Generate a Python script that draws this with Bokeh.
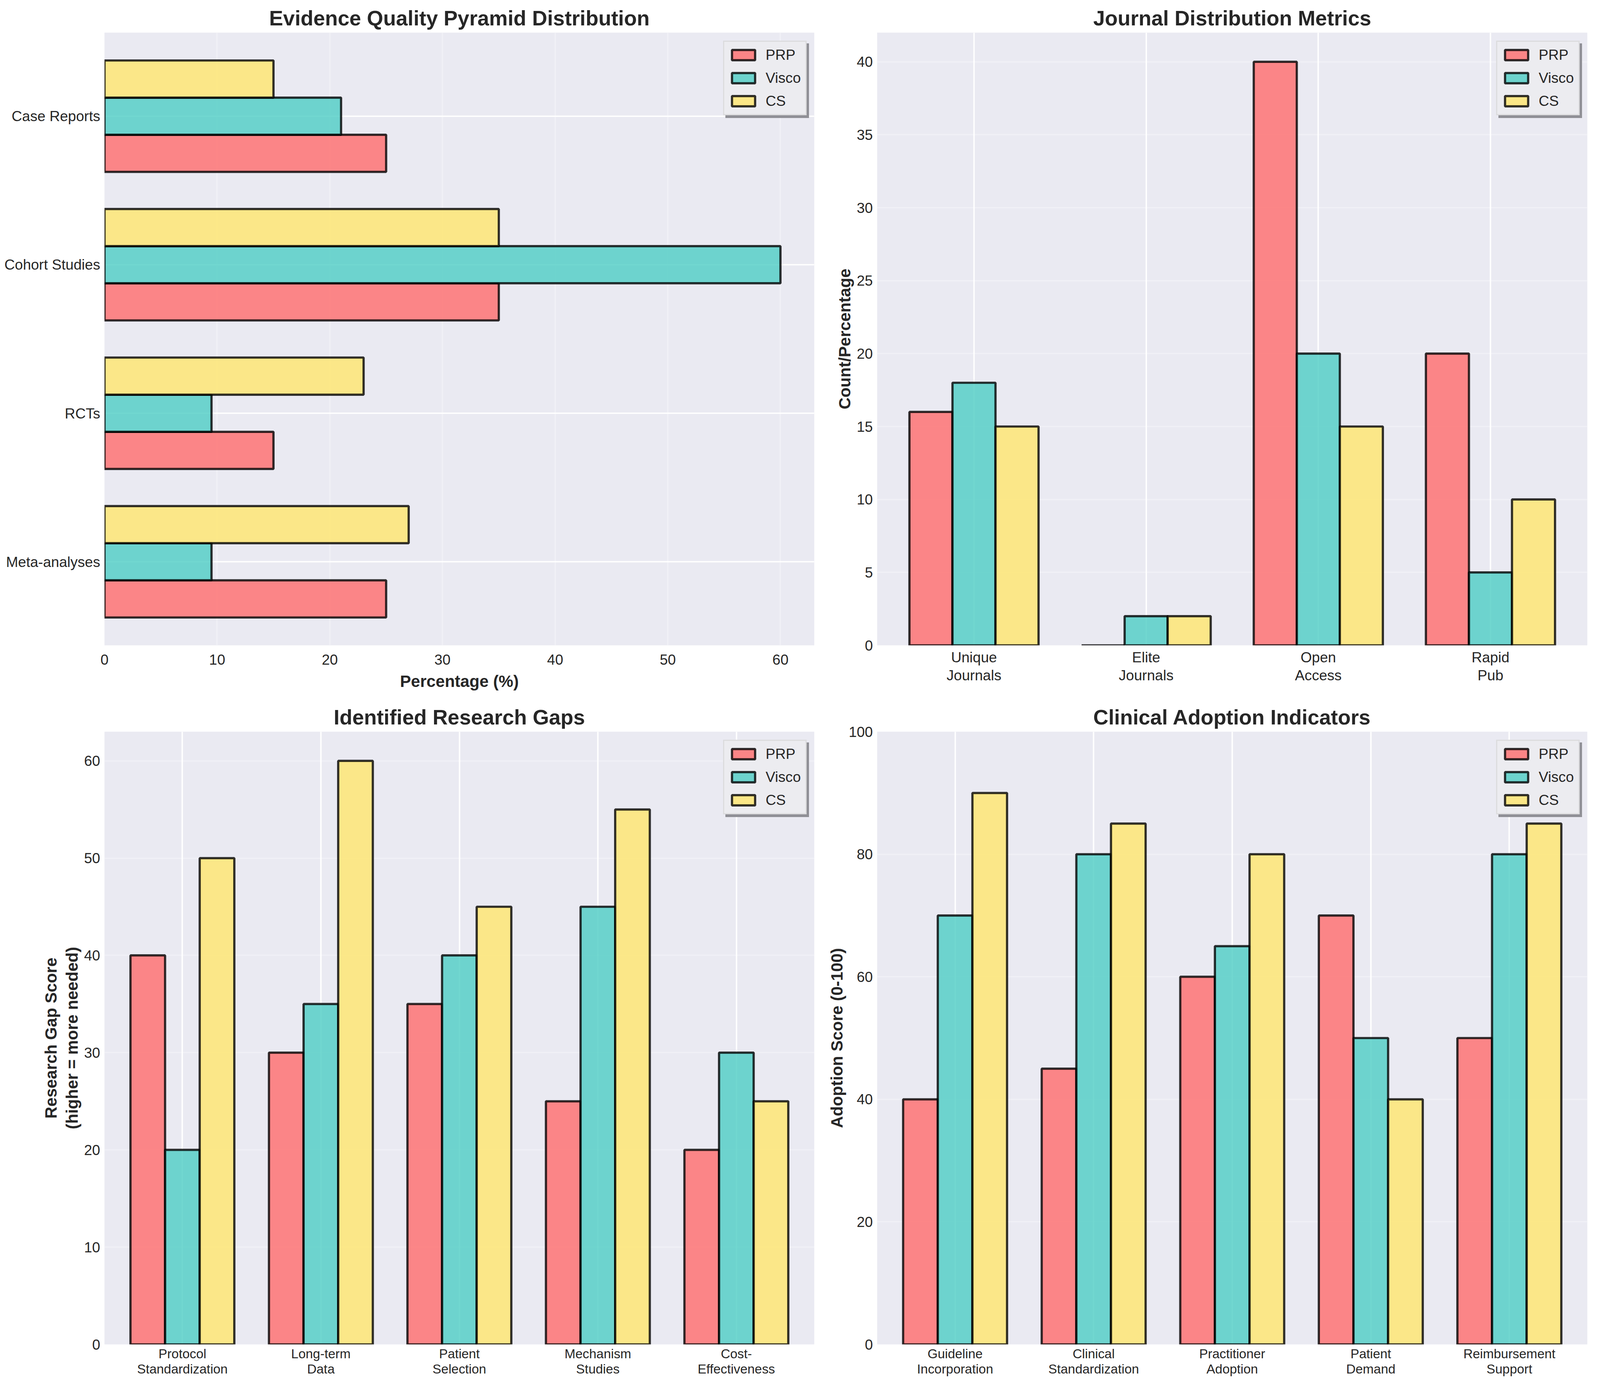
from bokeh.plotting import figure
from bokeh.models import (FactorRange, Range1d, Legend, LegendItem,
                          ColumnDataSource, FixedTicker)
from bokeh.transform import dodge
from bokeh.layouts import row, column
from bokeh.embed import file_html
from bokeh.resources import INLINE

# ---------------- data ----------------
series = ["PRP", "Visco", "CS"]
colors = ["#FF6B6B", "#4ECDC4", "#FFE66D"]

evidence_levels = ["Meta-analyses", "RCTs", "Cohort Studies", "Case Reports"]
evidence_prp = [25, 15, 35, 25]
evidence_visco = [9.5, 9.5, 60, 21]
evidence_cs = [27, 23, 35, 15]
evidence_ticks = [0, 10, 20, 30, 40, 50, 60]

journal_metrics = ["Unique\nJournals", "Elite\nJournals", "Open\nAccess", "Rapid\nPub"]
journal_prp = [16, 0, 40, 20]
journal_visco = [18, 2, 20, 5]
journal_cs = [15, 2, 15, 10]
journal_ticks = [0, 5, 10, 15, 20, 25, 30, 35, 40]

gap_areas = ["Protocol\nStandardization", "Long-term\nData", "Patient\nSelection",
             "Mechanism\nStudies", "Cost-\nEffectiveness"]
gap_prp = [40, 30, 35, 25, 20]
gap_visco = [20, 35, 40, 45, 30]
gap_cs = [50, 60, 45, 55, 25]
gap_ticks = [0, 10, 20, 30, 40, 50, 60]

adoption_areas = ["Guideline\nIncorporation", "Clinical\nStandardization",
                  "Practitioner\nAdoption", "Patient\nDemand", "Reimbursement\nSupport"]
adoption_prp = [40, 45, 60, 70, 50]
adoption_visco = [70, 80, 65, 50, 80]
adoption_cs = [90, 85, 80, 40, 85]
adoption_ticks = [0, 20, 40, 60, 80, 100]

# ---------------- style ----------------
F = 0.92    # font scale for titles / axis labels
FT = 0.89   # font scale for tick and legend labels


def px(v, f=F):
    return "%.1fpx" % (v * f)


FONT = "Liberation Sans"
TXT = "#262626"
BG = "#EAEAF2"
TICK_FS = px(41.7, FT)
TICK_FS_SMALL = px(37.5, FT)
LABEL_FS = px(45.8)
TITLE_FS = px(58.3)
BAR_W = 0.25
OFFSETS = [-0.25, 0.0, 0.25]
BAR_LW = 5.7
GRID_LW = 3.7

FW1, FW2, FH = 1817, 1818, 1568
LEFT1, RIGHT1, LEFT2, RIGHT2 = 267, 30, 131, 8
TOP_A, BOT_A, TOP_B, BOT_B = 83, 140, 81, 114


def make_fig(title, x_range, y_range, fw, left, right, top, bottom):
    p = figure(x_range=x_range, y_range=y_range, frame_width=fw, frame_height=FH,
               min_border_left=left, min_border_right=right,
               min_border_top=top, min_border_bottom=bottom,
               output_backend="svg", toolbar_location=None, title=title)
    p.background_fill_color = BG
    p.border_fill_color = "white"
    p.outline_line_color = None
    p.title.text_font = FONT
    p.title.text_font_size = TITLE_FS
    p.title.text_font_style = "bold"
    p.title.text_color = TXT
    p.title.align = "center"
    p.title.standoff = 15
    for ax in p.axis:
        ax.axis_line_color = None
        ax.major_tick_line_color = None
        ax.minor_tick_line_color = None
        ax.major_tick_out = 0
        ax.major_tick_in = 0
        ax.minor_tick_out = 0
        ax.minor_tick_in = 0
        ax.major_label_text_font = FONT
        ax.major_label_text_color = TXT
        ax.major_label_text_font_size = TICK_FS
        ax.axis_label_text_font = FONT
        ax.axis_label_text_font_style = "bold"
        ax.axis_label_text_font_size = LABEL_FS
        ax.axis_label_text_color = TXT
        ax.axis_label_text_line_height = 1.15
    p.yaxis.major_label_standoff = 11
    p.xaxis.major_label_standoff = 9
    p.yaxis.axis_label_standoff = 4
    p.xaxis.axis_label_standoff = 16
    return p


def style_grids(p, cat_dim):
    cat_grid = p.xgrid if cat_dim == "x" else p.ygrid
    val_grid = p.ygrid if cat_dim == "x" else p.xgrid
    for g in cat_grid:
        g.grid_line_color = "white"
        g.grid_line_width = GRID_LW
        g.grid_line_alpha = 1.0
    for g in val_grid:
        g.grid_line_color = "white"
        g.grid_line_width = GRID_LW
        g.grid_line_alpha = 0.3


LEG_W, LEG_H = 218, 192


def add_legend(p, renderers, fw):
    x0 = fw - 15 - LEG_W
    y0 = FH - 20 - LEG_H

    def build(loc):
        lg = Legend(items=[LegendItem(label=s, renderers=[r]) for s, r in zip(series, renderers)],
                    location=loc)
        lg.label_text_font = FONT
        lg.label_text_font_size = TICK_FS
        lg.label_text_color = TXT
        lg.glyph_width = 74
        lg.glyph_height = 33
        lg.label_standoff = 20
        lg.padding = 12
        lg.spacing = 16
        lg.margin = 0
        lg.border_line_width = 3.6
        return lg

    shadow = build((x0 + 6, y0 - 7))
    shadow.label_text_alpha = 0
    shadow.background_fill_color = "#909096"
    shadow.background_fill_alpha = 1.0
    shadow.border_line_color = "#909096"
    real = build((x0, y0))
    real.background_fill_color = "#ECECF0"
    real.background_fill_alpha = 1.0
    real.border_line_color = "#CCCCCC"
    p.add_layout(shadow, "center")
    p.add_layout(real, "center")


def vbars(p, cats, vals, fw):
    src = ColumnDataSource(dict(cat=cats, PRP=vals[0], Visco=vals[1], CS=vals[2]))
    rs = []
    for s, c, off in zip(series, colors, OFFSETS):
        rs.append(p.vbar(x=dodge("cat", off, range=p.x_range), top=s, bottom=0,
                         width=BAR_W, source=src, fill_color=c, fill_alpha=0.8,
                         line_color="black", line_alpha=0.8, line_width=BAR_LW))
    add_legend(p, rs, fw)


def cat_range(cats):
    return FactorRange(factors=cats, range_padding=0.0625, range_padding_units="absolute")


# ---- 1: Evidence Quality Pyramid Distribution (horizontal bars) ----
p1 = make_fig("Evidence Quality Pyramid Distribution", Range1d(0, 63),
              cat_range(evidence_levels), FW1, LEFT1, RIGHT1, TOP_A, BOT_A)
src1 = ColumnDataSource(dict(cat=evidence_levels, PRP=evidence_prp,
                             Visco=evidence_visco, CS=evidence_cs))
rs1 = []
for s, c, off in zip(series, colors, OFFSETS):
    rs1.append(p1.hbar(y=dodge("cat", off, range=p1.y_range), right=s, left=0,
                       height=BAR_W, source=src1, fill_color=c, fill_alpha=0.8,
                       line_color="black", line_alpha=0.8, line_width=BAR_LW))
add_legend(p1, rs1, FW1)
p1.xaxis.ticker = FixedTicker(ticks=evidence_ticks)
p1.xaxis.axis_label = "Percentage (%)"
p1.xaxis.major_label_standoff = 23
style_grids(p1, "y")

# ---- 2: Journal Distribution Metrics ----
p2 = make_fig("Journal Distribution Metrics", cat_range(journal_metrics), Range1d(0, 42),
              FW2, LEFT2, RIGHT2, TOP_A, BOT_A)
vbars(p2, journal_metrics, [journal_prp, journal_visco, journal_cs], FW2)
p2.yaxis.ticker = FixedTicker(ticks=journal_ticks)
p2.yaxis.axis_label = "Count/Percentage"
p2.xaxis.major_label_text_line_height = 1.1
style_grids(p2, "x")

# ---- 3: Identified Research Gaps ----
p3 = make_fig("Identified Research Gaps", cat_range(gap_areas), Range1d(0, 63),
              FW1, LEFT1, RIGHT1, TOP_B, BOT_B)
vbars(p3, gap_areas, [gap_prp, gap_visco, gap_cs], FW1)
p3.yaxis.ticker = FixedTicker(ticks=gap_ticks)
p3.yaxis.axis_label = "Research Gap Score\n(higher = more needed)"
p3.xaxis.major_label_text_font_size = TICK_FS_SMALL
p3.xaxis.major_label_text_line_height = 1.08
p3.xaxis.major_label_standoff = 5
style_grids(p3, "x")

# ---- 4: Clinical Adoption Indicators ----
p4 = make_fig("Clinical Adoption Indicators", cat_range(adoption_areas), Range1d(0, 100),
              FW2, LEFT2, RIGHT2, TOP_B, BOT_B)
vbars(p4, adoption_areas, [adoption_prp, adoption_visco, adoption_cs], FW2)
p4.yaxis.ticker = FixedTicker(ticks=adoption_ticks)
p4.yaxis.axis_label = "Adoption Score (0-100)"
p4.xaxis.major_label_text_font_size = TICK_FS_SMALL
p4.xaxis.major_label_text_line_height = 1.08
p4.xaxis.major_label_standoff = 5
style_grids(p4, "x")

page = column(row(p1, p2), row(p3, p4))
open("out.html", "w").write(file_html(page, INLINE))
